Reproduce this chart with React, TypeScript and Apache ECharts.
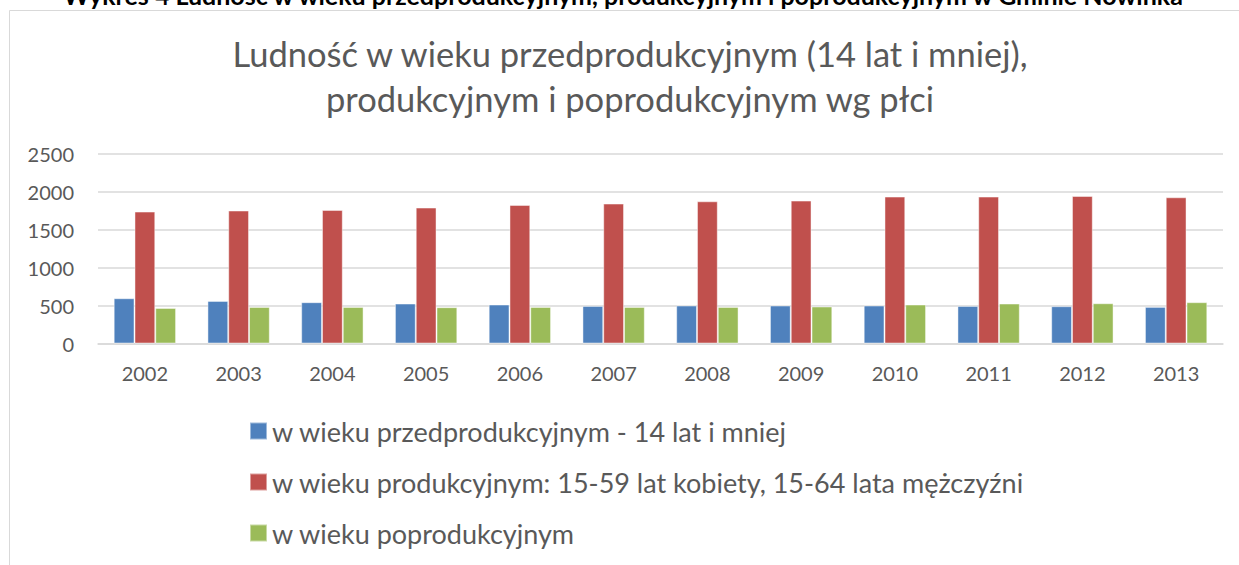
import React, { useEffect, useRef } from "react";
import * as echarts from "echarts";

const years = ["2002", "2003", "2004", "2005", "2006", "2007", "2008", "2009", "2010", "2011", "2012", "2013"];
const seriesNames = [
  "w wieku przedprodukcyjnym - 14 lat i mniej",
  "w wieku produkcyjnym: 15-59 lat kobiety, 15-64 lata mężczyźni",
  "w wieku poprodukcyjnym",
];
const preProductive = [597, 562, 545, 527, 514, 496, 501, 501, 501, 496, 492, 483];
const productive = [1740, 1754, 1762, 1793, 1828, 1846, 1876, 1885, 1938, 1938, 1946, 1929];
const postProductive = [469, 483, 483, 479, 483, 483, 483, 488, 514, 527, 531, 545];
const colors = ["#4F81BD", "#C0504D", "#9BBB59"];
const chartTitle = "Ludność w wieku przedprodukcyjnym (14 lat i mniej),\nprodukcyjnym i poprodukcyjnym wg płci";
const docTitle = "Wykres 4 Ludność w wieku przedprodukcyjnym, produkcyjnym i poprodukcyjnym w Gminie Nowinka";

const FONT = "Lato, 'Liberation Sans', sans-serif";
const GRAY = "#595959";

export default function App() {
  const ref = useRef<HTMLDivElement>(null);
  useEffect(() => {
    document.body.style.margin = "0";
    if (!ref.current) return;
    const chart = echarts.init(ref.current, null, { renderer: "svg" });
    const values = [preProductive, productive, postProductive];
    chart.setOption({
      animation: false,
      backgroundColor: "#ffffff",
      textStyle: { fontFamily: FONT },
      graphic: [
        {
          type: "rect",
          silent: true,
          shape: { x: 9.5, y: 10.5, width: 1245, height: 600 },
          style: { fill: "none", stroke: "#d9d9d9", lineWidth: 1 },
        },
        {
          type: "text",
          x: 623,
          y: -5,
          style: {
            text: docTitle,
            fontFamily: FONT,
            fontSize: 25,
            fontWeight: "bold",
            fill: "#000000",
            align: "center",
            verticalAlign: "middle",
          },
        },
        {
          type: "text",
          x: 630,
          y: 30.5,
          style: {
            text: chartTitle,
            fontFamily: FONT,
            fontSize: 34.5,
            lineHeight: 45,
            fill: GRAY,
            align: "center",
            verticalAlign: "top",
          },
        },
      ],
      grid: { left: 98, right: 16, top: 154, bottom: 221.5, containLabel: false },
      legend: {
        orient: "vertical",
        left: 249,
        top: 416,
        padding: 0,
        itemWidth: 17,
        itemHeight: 17,
        itemGap: 21,
        icon: "rect",
        data: seriesNames,
        textStyle: { fontFamily: FONT, fontSize: 27, lineHeight: 30, color: GRAY },
      },
      xAxis: {
        type: "category",
        data: years,
        axisLine: { show: true, lineStyle: { color: "#d9d9d9", width: 1.5 } },
        axisTick: { show: false },
        axisLabel: { color: GRAY, fontSize: 20, fontFamily: FONT, margin: 19 },
      },
      yAxis: {
        type: "value",
        min: 0,
        max: 2500,
        interval: 500,
        axisLine: { show: false },
        axisTick: { show: false },
        splitLine: { lineStyle: { color: "#d9d9d9", width: 1.5 } },
        axisLabel: {
          color: GRAY,
          fontSize: 20,
          fontFamily: FONT,
          margin: 24,
          formatter: (v: number) => String(v),
        },
      },
      series: seriesNames.map((name, i) => ({
        name,
        type: "bar",
        data: values[i],
        barGap: "0%",
        barCategoryGap: "33.5%",
        itemStyle: { color: colors[i], borderColor: "rgba(255,255,255,0.45)", borderWidth: 1 },
      })),
    });
    return () => chart.dispose();
  }, []);
  return <div ref={ref} style={{ width: 1239, height: 565 }} />;
}
